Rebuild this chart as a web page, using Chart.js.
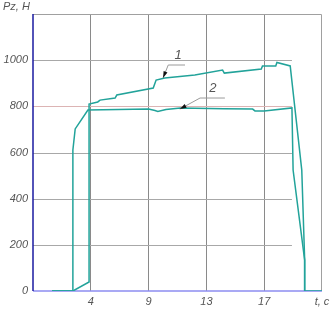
<!DOCTYPE html>
<html>
<head>
<meta charset="utf-8">
<script src="https://cdn.jsdelivr.net/npm/chart.js@4"></script>
<style>
  body { margin: 0; background: #fff; }
  #wrap { width: 336px; height: 313px; }
</style>
</head>
<body>
<div id="wrap"><canvas id="chart" width="336" height="313"></canvas></div>
<script>
// x is measured in grid cells, the grid is labelled 4, 9, 13, 17 on the original
var xTickLabels = ['', '4', '9', '13', '17', 't, c'];
var yMax = 1200;

// curve 1 (upper)
var curve1X = [0.33, 0.69, 0.97, 0.97, 1.12, 1.16, 1.42, 1.45, 2.08, 2.13, 2.28, 2.80, 3.28, 3.31, 3.95, 3.97, 4.20, 4.22, 4.45, 4.65, 4.70, 4.70];
var curve1Y = [0, 0, 39, 810, 819, 827, 836, 849, 879, 914, 923, 936, 957, 944, 962, 975, 975, 990, 975, 524, 134, 0];

// curve 2 (lower)
var curve2X = [0.33, 0.69, 0.69, 0.73, 0.95, 2.00, 2.11, 2.16, 2.30, 2.55, 3.30, 3.80, 3.84, 4.00, 4.48, 4.50, 4.70, 4.70, 5.00];
var curve2Y = [0, 0, 611, 702, 784, 788, 782, 778, 786, 793, 790, 788, 780, 780, 793, 524, 134, 0, 0];

var teal = '#22a39a';

function toPoints(xs, ys) {
    return xs.map((x, i) => ({ x: x, y: ys[i] }));
}

// leader lines for the curve numbers: tip, knee, shelf end, text position
var callouts = [
    { text: '1', tip: [2.25, 923], knee: [2.34, 979], end: [2.63, 979], at: [2.51, 1022] },
    { text: '2', tip: [2.54, 788], knee: [2.89, 836], end: [3.32, 836], at: [3.11, 879] }
];

var gridPlugin = {
    id: 'gridPlugin',
    beforeDatasetsDraw(chart) {
        var ctx = chart.ctx;
        var xs = chart.scales.x;
        var ys = chart.scales.y;
        var a = chart.chartArea;
        ctx.save();
        ctx.lineWidth = 1;
        [200, 400, 600, 800, 1000].forEach(v => {
            var y = Math.round(ys.getPixelForValue(v)) + 0.5;
            ctx.strokeStyle = v == 800 ? '#dcb4b4' : '#a8a8a8';
            ctx.beginPath();
            ctx.moveTo(a.left, y);
            ctx.lineTo(xs.getPixelForValue(4.48), y);
            ctx.stroke();
        });
        // top and right frame
        ctx.strokeStyle = '#a0a0a0';
        ctx.beginPath();
        ctx.moveTo(a.left, a.top + 0.5);
        ctx.lineTo(a.right - 0.5, a.top + 0.5);
        ctx.lineTo(a.right - 0.5, a.bottom);
        ctx.stroke();
        // base line
        ctx.strokeStyle = '#8c8cf0';
        ctx.lineWidth = 1.5;
        ctx.beginPath();
        ctx.moveTo(a.left, ys.getPixelForValue(0));
        ctx.lineTo(a.right, ys.getPixelForValue(0));
        ctx.stroke();
        // left axis
        ctx.strokeStyle = '#1a1aa0';
        ctx.lineWidth = 1.5;
        ctx.beginPath();
        ctx.moveTo(a.left, a.top);
        ctx.lineTo(a.left, a.bottom);
        ctx.stroke();
        ctx.restore();
    },
    afterDatasetsDraw(chart) {
        var ctx = chart.ctx;
        var xs = chart.scales.x;
        var ys = chart.scales.y;
        ctx.save();
        callouts.forEach(c => {
            var tx = xs.getPixelForValue(c.tip[0]), ty = ys.getPixelForValue(c.tip[1]);
            var kx = xs.getPixelForValue(c.knee[0]), ky = ys.getPixelForValue(c.knee[1]);
            var ex = xs.getPixelForValue(c.end[0]);
            ctx.strokeStyle = '#9a9a9a';
            ctx.lineWidth = 1;
            ctx.beginPath();
            ctx.moveTo(ex, ky);
            ctx.lineTo(kx, ky);
            ctx.lineTo(tx, ty);
            ctx.stroke();
            // arrow head
            var ang = Math.atan2(ty - ky, tx - kx);
            ctx.fillStyle = '#111';
            ctx.beginPath();
            ctx.moveTo(tx, ty);
            ctx.lineTo(tx - 7 * Math.cos(ang - 0.3), ty - 7 * Math.sin(ang - 0.3));
            ctx.lineTo(tx - 7 * Math.cos(ang + 0.3), ty - 7 * Math.sin(ang + 0.3));
            ctx.closePath();
            ctx.fill();
            ctx.fillStyle = '#555';
            ctx.font = 'italic 13px "Liberation Sans"';
            ctx.textAlign = 'center';
            ctx.textBaseline = 'middle';
            ctx.fillText(c.text, xs.getPixelForValue(c.at[0]), ys.getPixelForValue(c.at[1]));
        });
        // axis title
        ctx.fillStyle = '#555';
        ctx.font = 'italic 11px "Liberation Sans"';
        ctx.textAlign = 'left';
        ctx.textBaseline = 'middle';
        ctx.fillText('Pz, H', 3, 7);
        ctx.restore();
    }
};

var ctx = document.getElementById('chart');

var myChart = new Chart(ctx, {
    type: 'line',
    data: {
        datasets: [
            {
                label: '1',
                data: toPoints(curve1X, curve1Y),
                borderColor: teal,
                borderWidth: 1.5,
                pointRadius: 0,
                tension: 0
            },
            {
                label: '2',
                data: toPoints(curve2X, curve2Y),
                borderColor: teal,
                borderWidth: 1.5,
                pointRadius: 0,
                tension: 0
            }
        ]
    },
    options: {
        responsive: false,
        animation: false,
        layout: { padding: { top: 14, right: 14, left: 0, bottom: 0 } },
        plugins: { legend: { display: false }, tooltip: { enabled: false } },
        scales: {
            x: {
                type: 'linear',
                min: 0,
                max: 5,
                afterFit: s => { s.height = 22; },
                border: { display: false },
                grid: {
                    drawTicks: false,
                    color: ctx => ctx.tick && (ctx.tick.value == 0 || ctx.tick.value == 5) ? 'rgba(0,0,0,0)' : '#8a8a8a'
                },
                ticks: {
                    stepSize: 1,
                    padding: 4,
                    color: '#555',
                    font: { family: 'Liberation Sans', style: 'italic', size: 11 },
                    callback: v => xTickLabels[v]
                }
            },
            y: {
                min: 0,
                max: yMax,
                afterFit: s => { s.width = 33; },
                border: { display: false },
                grid: { display: false, drawTicks: false },
                ticks: {
                    stepSize: 200,
                    padding: 5,
                    color: '#555',
                    font: { family: 'Liberation Sans', style: 'italic', size: 11 },
                    callback: function(v) { return v == yMax ? '' : v.toFixed(0); }
                }
            }
        }
    },
    plugins: [gridPlugin]
});
</script>
</body>
</html>
